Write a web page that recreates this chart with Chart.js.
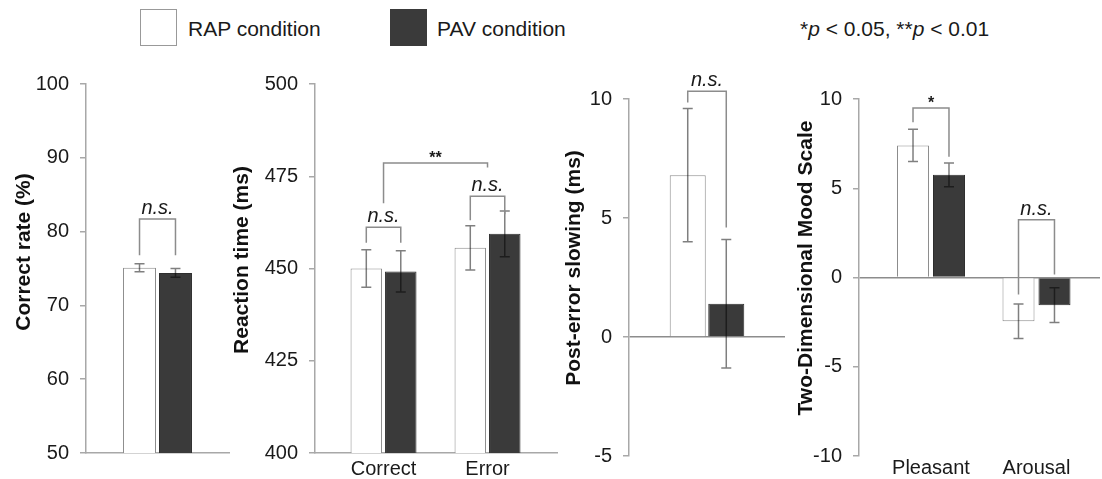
<!DOCTYPE html>
<html>
<head>
<meta charset="utf-8">
<script src="https://cdn.jsdelivr.net/npm/chart.js@4.4.0/dist/chart.umd.min.js"></script>
<style>
  body { margin: 0; width: 1102px; height: 479px; background: #fff; position: relative; overflow: hidden;
         font-family: 'Liberation Sans', Arial, sans-serif; color: #1a1a1a; }
  canvas { position: absolute; top: 60px; }
  .key { position: absolute; top: 9px; width: 37px; height: 37px; box-sizing: border-box; }
  .lbl { position: absolute; top: 28px; transform: translateY(-50%); font-size: 21px; line-height: 1; white-space: nowrap; }
</style>
</head>
<body>
<div class="key" style="left:140px; border:1.5px solid #999; background:#fff"></div>
<div class="lbl" style="left:188px">RAP condition</div>
<div class="key" style="left:390px; background:#3a3a3a"></div>
<div class="lbl" style="left:437px">PAV condition</div>
<div class="lbl" style="left:800px">*<i>p</i> &lt; 0.05, **<i>p</i> &lt; 0.01</div>

<canvas id="rate" width="230" height="419" style="left:0px"></canvas>
<canvas id="rt" width="328" height="419" style="left:230px"></canvas>
<canvas id="pes" width="246" height="419" style="left:540px"></canvas>
<canvas id="mood" width="332" height="419" style="left:770px"></canvas>

<script>
// correct rate (%)
const rateCats = [''];
const rateRAP = [75.1];
const rateRAPErr = [0.55];
const ratePAV = [74.4];
const ratePAVErr = [0.6];
const rateSig = [
  { from: [0, 0], to: [0, 1], top: 81.7, legs: [76.8, 76.8], text: 'n.s.' }
];

// reaction time (ms)
const rtCats = ['Correct', 'Error'];
const rtRAP = [450.0, 455.6];
const rtRAPErr = [5.1, 6.0];
const rtPAV = [449.2, 459.4];
const rtPAVErr = [5.6, 6.2];
const rtSig = [
  { from: [0, 0], to: [0, 1], top: 461.2, legs: [457.0, 457.0], text: 'n.s.' },
  { from: [1, 0], to: [1, 1], top: 469.6, legs: [463.1, 464.7], text: 'n.s.' },
  { from: [0], to: [1], top: 478.6, legs: [467.7, 477.4], text: '**' }
];

// post-error slowing (ms)
const pesCats = [''];
const pesRAP = [6.8];
const pesRAPErr = [2.8];
const pesPAV = [1.4];
const pesPAVErr = [2.7];
const pesSig = [
  { from: [0, 0], to: [0, 1], top: 10.33, legs: [9.85, 4.6], text: 'n.s.' }
];

// two-dimensional mood scale
const moodCats = ['Pleasant', 'Arousal'];
const moodRAP = [7.4, -2.45];
const moodRAPErr = [0.9, 0.97];
const moodPAV = [5.75, -1.55];
const moodPAVErr = [0.67, 0.97];
const moodSig = [
  { from: [0, 0], to: [0, 1], top: 9.5, legs: [8.7, 6.76], text: '*' },
  { from: [1, 0], to: [1, 1], top: 3.24, legs: [-0.95, 0.17], text: 'n.s.' }
];

Chart.defaults.font.family = "'Liberation Sans', Arial, sans-serif";

// error bars (mean ± error), significance brackets and the rotated y title
const sigPlugin = {
  id: 'sig',
  afterDatasetsDraw(chart, args, opts) {
    const { ctx } = chart;
    const y = chart.scales.y;
    ctx.save();
    ctx.lineWidth = 1.5;
    ctx.strokeStyle = 'rgba(0,0,0,0.5)';
    chart.data.datasets.forEach((ds, d) => {
      chart.getDatasetMeta(d).data.forEach((bar, i) => {
        const v = ds.data[i].y, e = ds.errors[i];
        const y1 = y.getPixelForValue(v + e), y2 = y.getPixelForValue(v - e);
        ctx.beginPath();
        ctx.moveTo(bar.x, y1); ctx.lineTo(bar.x, y2);
        ctx.moveTo(bar.x - 5, y1); ctx.lineTo(bar.x + 5, y1);
        ctx.moveTo(bar.x - 5, y2); ctx.lineTo(bar.x + 5, y2);
        ctx.stroke();
      });
    });

    // bracket end: [category, series] is one bar, [category] is the middle of the pair
    const xOf = ([cat, ser]) => {
      const bars = chart.data.datasets.map((_, d) => chart.getDatasetMeta(d).data[cat]);
      return ser === undefined ? (bars[0].x + bars[1].x) / 2 : bars[ser].x;
    };
    ctx.strokeStyle = '#8c8c8c';
    ctx.fillStyle = '#1a1a1a';
    ctx.textAlign = 'center';
    ctx.textBaseline = 'alphabetic';
    (opts.brackets || []).forEach(b => {
      const xa = xOf(b.from), xb = xOf(b.to);
      const top = y.getPixelForValue(b.top);
      ctx.beginPath();
      ctx.moveTo(xa, y.getPixelForValue(b.legs[0]));
      ctx.lineTo(xa, top);
      ctx.lineTo(xb, top);
      ctx.lineTo(xb, y.getPixelForValue(b.legs[1]));
      ctx.stroke();
      ctx.font = b.text === 'n.s.' ? "italic 20px 'Liberation Sans', Arial" : "bold 16px 'Liberation Sans', Arial";
      const m = ctx.measureText(b.text);
      ctx.fillText(b.text, (xa + xb) / 2, top - 5 - m.actualBoundingBoxDescent);
    });

    ctx.fillStyle = '#111';
    ctx.font = "bold 21px 'Liberation Sans', Arial";
    ctx.textBaseline = 'middle';
    ctx.translate(opts.titleAt[0], opts.titleAt[1]);
    ctx.rotate(-Math.PI / 2);
    ctx.fillText(opts.title, 0, 0);
    ctx.restore();
  }
};

function panel(id, o) {
  const pts = vals => vals.map((v, i) => ({ x: i + 1, y: v }));
  return new Chart(document.getElementById(id), {
    type: 'bar',
    data: {
      datasets: [
        { label: 'RAP condition', data: pts(o.rap), errors: o.rapErr,
          backgroundColor: '#fff', borderColor: '#8c8c8c', borderWidth: 1 },
        { label: 'PAV condition', data: pts(o.pav), errors: o.pavErr,
          backgroundColor: '#3a3a3a', borderColor: '#2e2e2e', borderWidth: 1 }
      ]
    },
    options: {
      responsive: false,
      animation: false,
      layout: { padding: { top: o.top, right: o.right, bottom: 0, left: 0 } },
      datasets: { bar: { categoryPercentage: o.catPct, barPercentage: o.barPct } },
      plugins: {
        legend: { display: false },
        tooltip: { enabled: false },
        sig: { brackets: o.sig, title: o.title, titleAt: o.titleAt }
      },
      scales: {
        // categories sit at 1, 2 on a linear axis so the pair can be placed off-centre
        x: {
          type: 'linear',
          offset: false,
          min: o.xmin,
          max: o.xmax,
          afterBuildTicks: s => { s.ticks = o.cats.map((c, i) => ({ value: i + 1 })); },
          afterFit: s => { s.height = o.xh; },
          grid: { display: false, drawTicks: false, offset: false },
          border: { display: o.baseline, color: '#a8a8a8', width: 1.5 },
          ticks: { callback: v => o.cats[v - 1], autoSkip: false, maxRotation: 0,
                   font: { size: 20 }, color: '#1a1a1a', padding: o.xpad }
        },
        y: {
          min: o.ymin,
          max: o.ymax,
          afterFit: s => { s.width = o.yw; },
          grid: {
            color: c => (c.tick && c.tick.value === 0) ? '#8c8c8c' : 'rgba(0,0,0,0)',
            tickColor: '#a8a8a8', tickLength: 6, lineWidth: 1.5
          },
          border: { color: '#a8a8a8', width: 1.5 },
          ticks: { stepSize: o.step, font: { size: 20 }, color: '#1a1a1a', padding: 11 }
        }
      }
    },
    plugins: [sigPlugin]
  });
}

panel('rate', {
  cats: rateCats, rap: rateRAP, rapErr: rateRAPErr, pav: ratePAV, pavErr: ratePAVErr, sig: rateSig,
  title: 'Correct rate (%)', titleAt: [24, 192], ymin: 50, ymax: 100, step: 10,
  xmin: 0.5, xmax: 1.5, catPct: 0.503, barPct: 0.917,
  top: 24, right: 1, yw: 86, xh: 26, xpad: 4, baseline: true
});

panel('rt', {
  cats: rtCats, rap: rtRAP, rapErr: rtRAPErr, pav: rtPAV, pavErr: rtPAVErr, sig: rtSig,
  title: 'Reaction time (ms)', titleAt: [12, 200], ymin: 400, ymax: 500, step: 25,
  xmin: 0.341, xmax: 2.668, catPct: 0.663, barPct: 0.913,
  top: 24, right: 1, yw: 85, xh: 26, xpad: 4, baseline: true
});

panel('pes', {
  cats: pesCats, rap: pesRAP, rapErr: pesRAPErr, pav: pesPAV, pavErr: pesPAVErr, sig: pesSig,
  title: 'Post-error slowing (ms)', titleAt: [34, 208], ymin: -5, ymax: 10, step: 5,
  xmin: 0.5, xmax: 1.5, catPct: 0.494, barPct: 0.935,
  top: 39, right: 1, yw: 89, xh: 22, xpad: 0, baseline: false
});

panel('mood', {
  cats: moodCats, rap: moodRAP, rapErr: moodRAPErr, pav: moodPAV, pavErr: moodPAVErr, sig: moodSig,
  title: 'Two-Dimensional Mood Scale', titleAt: [36, 208], ymin: -10, ymax: 10, step: 5,
  xmin: 0.3175, xmax: 2.602, catPct: 0.682, barPct: 0.89,
  top: 39, right: 2, yw: 89, xh: 22, xpad: 0, baseline: false
});
</script>
</body>
</html>
